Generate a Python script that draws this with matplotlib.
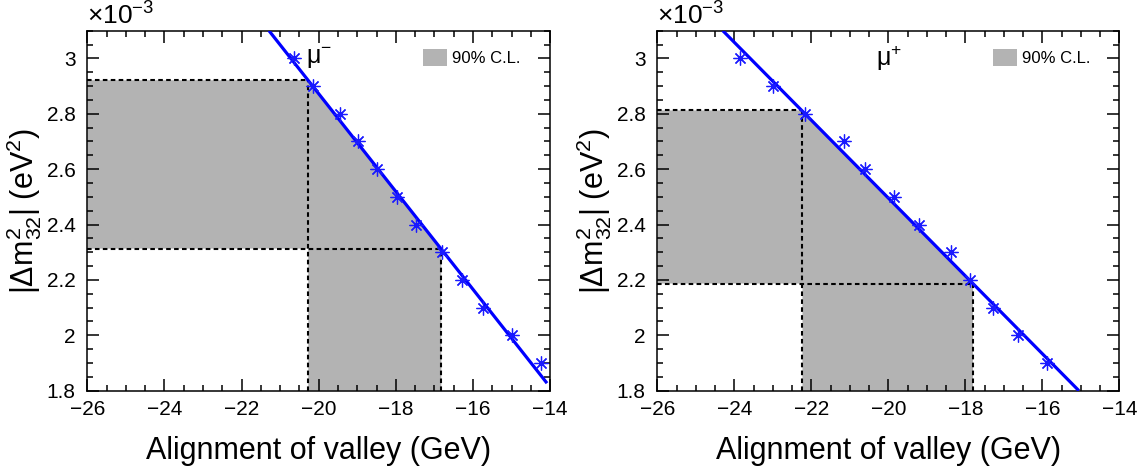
import numpy as np
import matplotlib.pyplot as plt
from matplotlib.ticker import MultipleLocator, FuncFormatter

plt.rcParams['font.family'] = ['Liberation Sans', 'DejaVu Sans']
plt.rcParams['mathtext.fontset'] = 'custom'
plt.rcParams['mathtext.rm'] = 'Liberation Sans'
plt.rcParams['mathtext.it'] = 'Liberation Sans:italic'
plt.rcParams['mathtext.bf'] = 'Liberation Sans:bold'

# |dm2_32| scan values, in units of 1e-3 eV^2
dm2 = [3.0, 2.9, 2.8, 2.7, 2.6, 2.5, 2.4, 2.3, 2.2, 2.1, 2.0, 1.9]

# mu- : valley alignment (GeV) for each dm2
valley_mum = [-20.65, -20.14, -19.44, -18.99, -18.48, -17.97,
              -17.48, -16.79, -16.28, -15.73, -14.98, -14.23]
fit_mum_x = [-21.29, -14.08]
fit_mum_y = [3.10, 1.827]
cl_mum_valley = [-20.27, -16.82]
cl_mum_dm2 = [2.313, 2.921]

# mu+
valley_mup = [-23.85, -23.00, -22.16, -21.16, -20.61, -19.86,
              -19.20, -18.38, -17.88, -17.29, -16.64, -15.87]
fit_mup_x = [-24.30, -15.05]
fit_mup_y = [3.10, 1.80]
cl_mup_valley = [-22.23, -17.80]
cl_mup_dm2 = [2.187, 2.812]

xlim = (-26, -14)
ylim = (1.8, 3.1)

fig = plt.figure(figsize=(11.46, 4.69), dpi=100)
ax1 = fig.add_axes([0.0762, 0.167, 0.4038, 0.7676])
ax2 = fig.add_axes([0.5736, 0.167, 0.4031, 0.7676])


def draw(ax, valley, fit_x, fit_y, cl_x, cl_y, label):
    x_lo, x_hi = cl_x
    y_lo, y_hi = cl_y
    # 90% C.L. region, upper edge follows the fit line
    reg_x = [xlim[0], x_lo, x_hi, x_hi, x_lo, x_lo, xlim[0]]
    reg_y = [y_hi, y_hi, y_lo, ylim[0], ylim[0], y_lo, y_lo]
    ax.fill(reg_x, reg_y, color='#b3b3b3', lw=0, zorder=1, label='90% C.L.')

    dash = dict(color='black', lw=1.5, ls=(0, (2.2, 1.6)), zorder=2)
    ax.plot([xlim[0], x_lo], [y_hi, y_hi], **dash)
    ax.plot([x_lo, x_lo], [ylim[0], y_hi], **dash)
    ax.plot([xlim[0], x_hi], [y_lo, y_lo], **dash)
    ax.plot([x_hi, x_hi], [ylim[0], y_lo], **dash)

    ax.plot(fit_x, fit_y, color='#0000ff', lw=2.3, zorder=3, solid_capstyle='butt')
    ax.plot(valley, dm2, ls='none', marker=(8, 2, 0), ms=10, mec='#1a1aff',
            mew=0.9, zorder=4)

    ax.set_xlim(*xlim)
    ax.set_ylim(*ylim)
    ax.xaxis.set_major_locator(MultipleLocator(2))
    ax.xaxis.set_minor_locator(MultipleLocator(0.5))
    ax.yaxis.set_major_locator(MultipleLocator(0.2))
    ax.yaxis.set_minor_locator(MultipleLocator(0.05))
    ax.yaxis.set_major_formatter(FuncFormatter(lambda v, p: '%g' % round(v, 3)))
    ax.tick_params(which='both', direction='in', top=True, right=True,
                   width=1.1, labelsize=15)
    ax.tick_params(which='major', length=8.5)
    ax.tick_params(axis='x', which='major', pad=7)
    ax.tick_params(axis='y', which='major', pad=8.5)
    ax.tick_params(which='minor', length=4.5)
    for s in ax.spines.values():
        s.set_linewidth(1.1)

    ax.set_xlabel('Alignment of valley (GeV)', fontsize=22, labelpad=12)
    ax.set_ylabel(r'$|\Delta \mathrm{m}^{2}_{32}|$ (eV$^{2}$)', fontsize=22,
                  labelpad=2)
    ax.text(0, 1.004, r'$\times$10$^{-3}$', transform=ax.transAxes, fontsize=19,
            ha='left', va='bottom')
    ax.text(-20.33, 3.0, label, fontsize=18, va='center', ha='left')
    ax.legend(loc='upper left', bbox_to_anchor=(0.726, 0.95), frameon=False,
              fontsize=12, handlelength=1.45, handleheight=1.2,
              handletextpad=0.3, borderpad=0, borderaxespad=0)


draw(ax1, valley_mum, fit_mum_x, fit_mum_y, cl_mum_valley, cl_mum_dm2, 'μ$^{-}$')
draw(ax2, valley_mup, fit_mup_x, fit_mup_y, cl_mup_valley, cl_mup_dm2, 'μ$^{+}$')

fig.savefig('out.png', dpi=100)
